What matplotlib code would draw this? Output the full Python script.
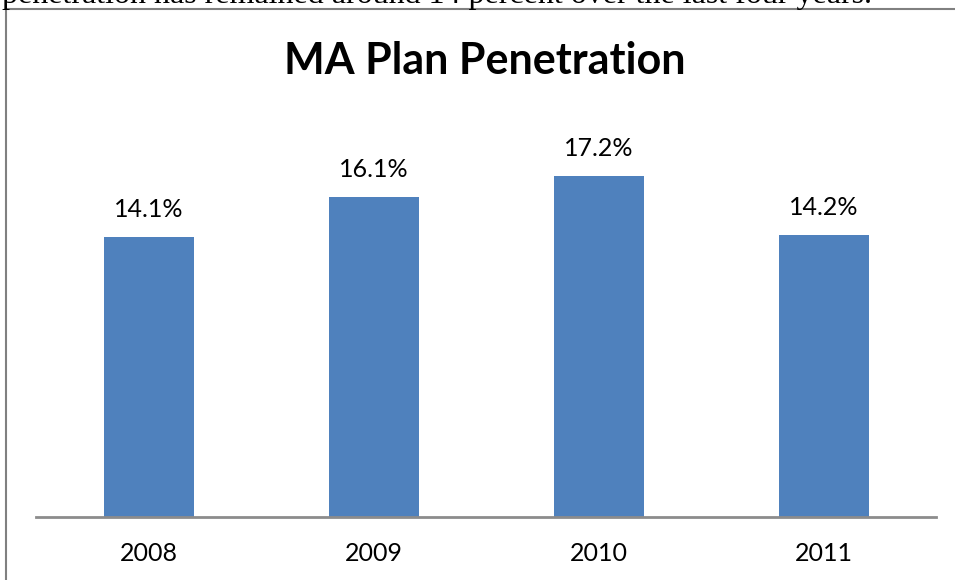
import matplotlib
matplotlib.use("Agg")
import matplotlib.pyplot as plt
from matplotlib.lines import Line2D

years = ["2008", "2009", "2010", "2011"]
penetration = [14.1, 16.1, 17.2, 14.2]
value_labels = ["14.1%", "16.1%", "17.2%", "14.2%"]
title = "MA Plan Penetration"
doc_text = "penetration has remained around 14 percent over the last four years."

W, H = 955, 580
fig = plt.figure(figsize=(W / 100, H / 100), dpi=100)
fig.patch.set_facecolor("white")

ax = fig.add_axes([36 / W, 1 - 517 / H, 900 / W, 397 / H])
x = list(range(len(years)))
ax.bar(x, penetration, width=0.4, color="#4F81BD", zorder=2)
ax.set_xlim(-0.5, len(years) - 0.5)
ax.set_ylim(0, 20)
ax.set_yticks([])
ax.set_xticks(x)
ax.set_xticklabels(years, fontsize=18, family=["Lato", "DejaVu Sans"])
ax.tick_params(axis="x", length=0, pad=18)
for s in ["top", "right", "left"]:
    ax.spines[s].set_visible(False)
ax.spines["bottom"].set_color("#8C8C8C")
ax.spines["bottom"].set_linewidth(2)
ax.patch.set_alpha(0)

for xi, v, lab in zip(x, penetration, value_labels):
    ax.annotate(lab, (xi, v), xytext=(0, 11.5), textcoords="offset points",
                ha="center", va="bottom", fontsize=18,
                family=["Lato", "DejaVu Sans"])

fig.text(485 / W, 1 - 61 / H, title, ha="center", va="center",
         fontsize=31, fontweight="bold", family=["Lato", "DejaVu Sans"])

# document text clipped at the top
fig.text(2 / W, 1 - 3.5 / H, doc_text, ha="left", va="baseline",
         fontsize=23, family=["Liberation Serif", "DejaVu Serif"])

# chart border (left and top edges visible)
fig.add_artist(Line2D([5.5 / W, 5.5 / W], [0, 1 - 9 / H], transform=fig.transFigure,
                      color="#808080", linewidth=1.5))
fig.add_artist(Line2D([5.5 / W, 1], [1 - 9 / H, 1 - 9 / H], transform=fig.transFigure,
                      color="#808080", linewidth=1.5))

fig.savefig("out.png", dpi=100, facecolor="white")
